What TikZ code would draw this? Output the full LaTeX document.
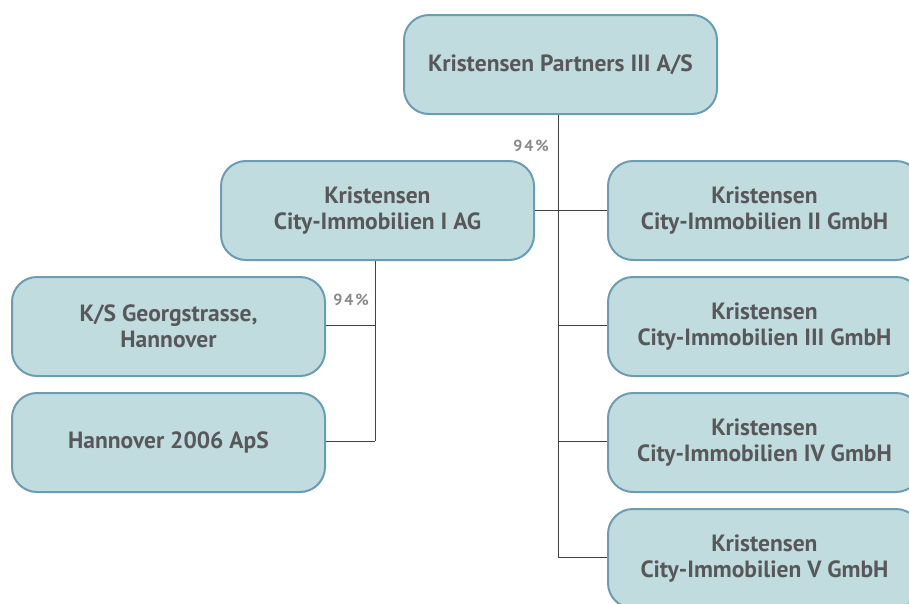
\documentclass[tikz,border=0pt]{standalone}
\usepackage{fontspec}
\setmainfont{PT Sans}
\definecolor{boxfill}{HTML}{C0DCDF}
\definecolor{boxdraw}{HTML}{6A9CB2}
\definecolor{txt}{HTML}{58585A}
\definecolor{pct}{HTML}{8A8A8A}
\tikzset{
  org/.style={draw=boxdraw, line width=2pt, fill=boxfill, rounded corners=25pt,
    minimum width=313pt, minimum height=99pt, text=txt, align=center,
    font=\fontsize{23.5}{26}\selectfont\bfseries, inner sep=0pt},
  link/.style={draw=black!75, line width=0.8pt},
  pctlabel/.style={text=pct, font=\fontsize{16}{18}\selectfont\bfseries\addfontfeature{LetterSpace=12}, inner sep=0pt}
}
\begin{document}
\begin{tikzpicture}[x=1pt,y=-1pt]
\useasboundingbox (0,0) rectangle (909,603);
\clip (0,0) rectangle (909,603);
\coordinate (v1top) at (558,114);
\coordinate (v1bot) at (558,557);
\coordinate (j2) at (558,325);
\coordinate (j3) at (558,441);
\coordinate (j4) at (558,557);
\coordinate (v2top) at (375,260);
\coordinate (v2bot) at (375,441);
\coordinate (k1) at (375,325);
\coordinate (k2) at (375,441);

\node[org] (top) at (560.5,64.5) {Kristensen Partners III A/S};
\node[org] (ag) at (377.5,210.5) {Kristensen\\City-Immobilien I AG};
\node[org] (r2) at (764.5,210.5) {Kristensen\\City-Immobilien II GmbH};
\node[org] (r3) at (764.5,326.5) {Kristensen\\City-Immobilien III GmbH};
\node[org] (r4) at (764.5,442.5) {Kristensen\\City-Immobilien IV GmbH};
\node[org] (r5) at (764.5,558.5) {Kristensen\\City-Immobilien V GmbH};
\node[org] (l1) at (168.5,326.5) {K/S Georgstrasse,\\Hannover};
\node[org] (l2) at (168.5,442.5) {Hannover 2006 ApS};

\draw[link] (top.south -| v1top) -- (v1bot);
\draw[link] (ag.east) -- (r2.west);
\draw[link] (j2) -- (j2 -| r3.west);
\draw[link] (j3) -- (j3 -| r4.west);
\draw[link] (j4) -- (j4 -| r5.west);
\draw[link] (ag.south -| v2top) -- (v2bot);
\draw[link] (k1) -- (k1 -| l1.east);
\draw[link] (k2) -- (k2 -| l2.east);

\node[pctlabel] (p1) at (531,146) {94\%};
\node[pctlabel] (p2) at (351,300) {94\%};
\end{tikzpicture}
\end{document}
